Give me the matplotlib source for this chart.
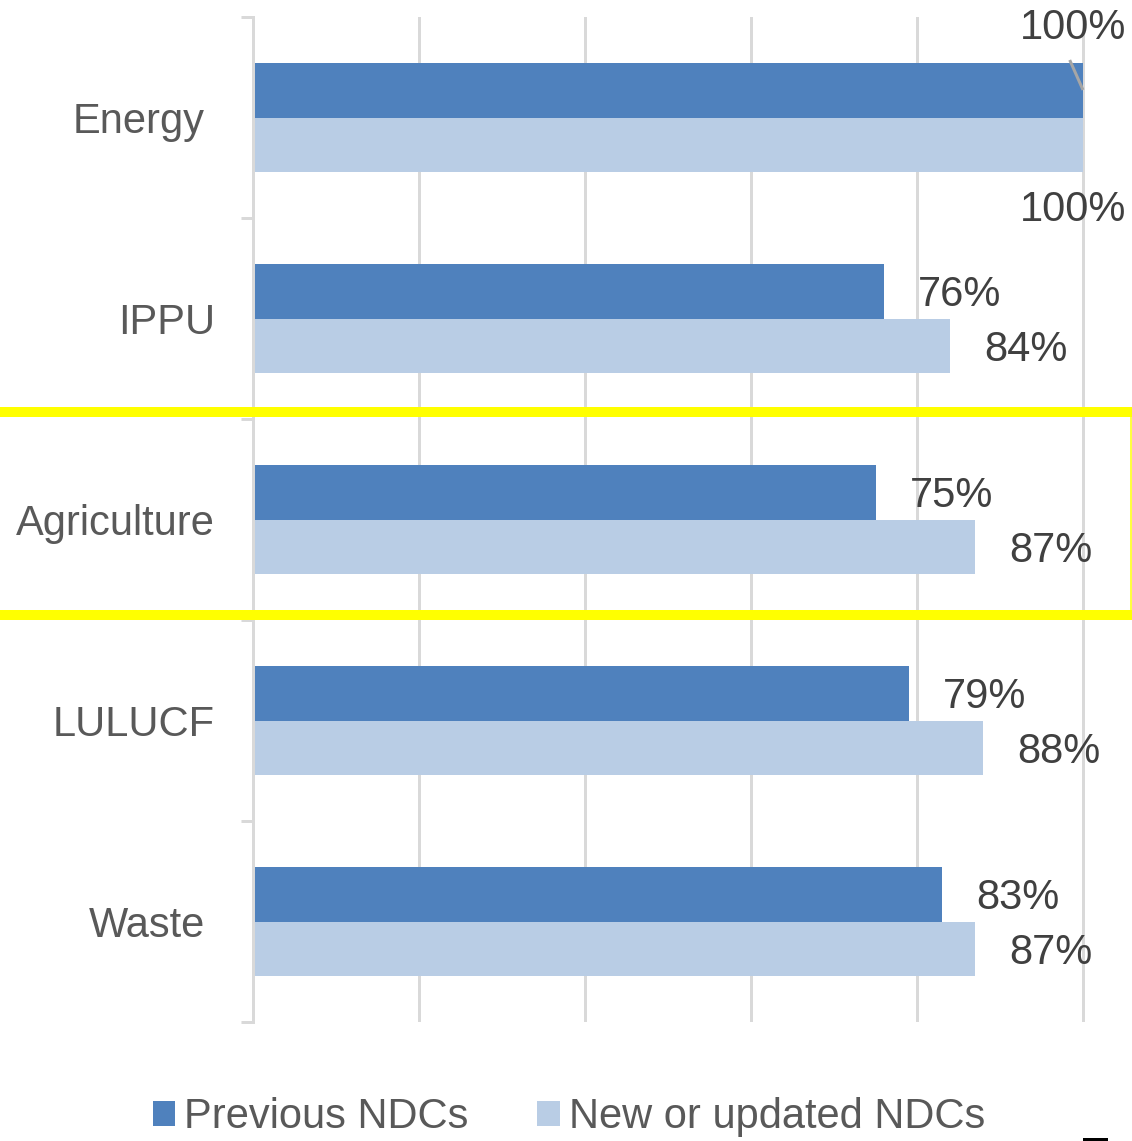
import matplotlib
matplotlib.use("Agg")
import matplotlib.pyplot as plt
import matplotlib.transforms as mtransforms
from matplotlib.lines import Line2D
from matplotlib.patches import Patch
import numpy as np

plt.rcParams['font.family'] = ['Liberation Sans', 'DejaVu Sans']

categories = ["Energy", "IPPU", "Agriculture", "LULUCF", "Waste"]
previous_ndcs = [1.00, 0.76, 0.75, 0.79, 0.83]
new_ndcs = [1.00, 0.84, 0.87, 0.88, 0.87]
series_names = ["Previous NDCs", "New or updated NDCs"]

W, H = 1132, 1141
fig = plt.figure(figsize=(W / 100, H / 100), dpi=100)
PX = 72 / 100  # points per pixel

xmax = 1.02
ax_left, ax_right_100 = 253, 1083
ax_top, ax_bottom = 17, 1022
ax_w = (ax_right_100 - ax_left) * xmax
ax = fig.add_axes([ax_left / W, (H - ax_bottom) / H, ax_w / W, (ax_bottom - ax_top) / H])

dark = "#4F81BD"
light = "#B9CDE5"
grid_c = "#D9D9D9"

y = np.arange(len(categories))
bh = 0.27
ax.barh(y - bh / 2, previous_ndcs, height=bh, color=dark, zorder=3)
ax.barh(y + bh / 2, new_ndcs, height=bh, color=light, zorder=3)

ax.set_xlim(0, xmax)
ax.set_ylim(len(categories) - 0.5, -0.5)

for v in [0.2, 0.4, 0.6, 0.8, 1.0]:
    ax.axvline(v, color=grid_c, lw=3 * PX, zorder=1)

for s in ["top", "right", "bottom"]:
    ax.spines[s].set_visible(False)
ax.spines["left"].set_color(grid_c)
ax.spines["left"].set_linewidth(3 * PX)
ax.spines["left"].set_zorder(4)

ax.set_xticks([])
ax.set_yticks(y)
ax.set_yticklabels(categories, fontsize=30, color="#595959")
ax.tick_params(axis="y", which="major", length=0, pad=38 * PX)
ax.set_yticks(np.arange(-0.5, len(categories), 1.0), minor=True)
ax.tick_params(axis="y", which="minor", length=12 * PX, width=3 * PX, color=grid_c)

# Energy and Waste labels sit slightly further left in the original
for lbl in ax.get_yticklabels():
    if lbl.get_text() in ("Energy", "Waste"):
        lbl.set_transform(lbl.get_transform() +
                          mtransforms.ScaledTranslation(-10 / 100, 0, fig.dpi_scale_trans))

lab_c = "#404040"
dy = -4 * PX
for i in range(1, len(categories)):
    ax.annotate(f"{previous_ndcs[i]*100:.0f}%", (previous_ndcs[i], y[i] - bh / 2),
                xytext=(34 * PX, dy), textcoords="offset points",
                ha="left", va="center", fontsize=30, color=lab_c)
    ax.annotate(f"{new_ndcs[i]*100:.0f}%", (new_ndcs[i], y[i] + bh / 2),
                xytext=(34 * PX, dy), textcoords="offset points",
                ha="left", va="center", fontsize=30, color=lab_c)

# Energy labels placed above / below bars with a leader line
ax.text(0.9875, -0.445, f"{previous_ndcs[0]*100:.0f}%", ha="center", va="center",
        fontsize=30, color=lab_c, zorder=5)
ax.text(0.9875, 0.458, f"{new_ndcs[0]*100:.0f}%", ha="center", va="center",
        fontsize=30, color=lab_c, zorder=5)
ax.plot([0.984, 1.0], [-0.286, -0.137], color="#A6A6A6", lw=3 * PX, zorder=6,
        solid_capstyle="butt")

# legend
handles = [Patch(facecolor=dark, edgecolor="none"), Patch(facecolor=light, edgecolor="none")]
fig.legend(handles, series_names, loc="center", bbox_to_anchor=(569 / W, (H - 1117) / H),
           ncol=2, frameon=False, fontsize=30, labelcolor="#595959",
           handlelength=0.53, handleheight=0.55, handletextpad=0.22,
           columnspacing=1.65, borderpad=0, borderaxespad=0)

# yellow highlight box around Agriculture
fig.add_artist(Line2D([0, 1], [(H - 412) / H] * 2, color="#FFFF00", lw=10 * PX,
                      transform=fig.transFigure))
fig.add_artist(Line2D([0, 1], [(H - 615) / H] * 2, color="#FFFF00", lw=10 * PX,
                      transform=fig.transFigure))
fig.add_artist(Line2D([1130.5 / W] * 2, [(H - 412) / H, (H - 615) / H], color="#FFFF00",
                      lw=1.5 * PX, transform=fig.transFigure))

# small black mark at bottom right
fig.add_artist(Line2D([1084 / W, 1106 / W], [(H - 1139) / H] * 2, color="black",
                      lw=3 * PX, transform=fig.transFigure))

fig.savefig("out.png", dpi=100)
